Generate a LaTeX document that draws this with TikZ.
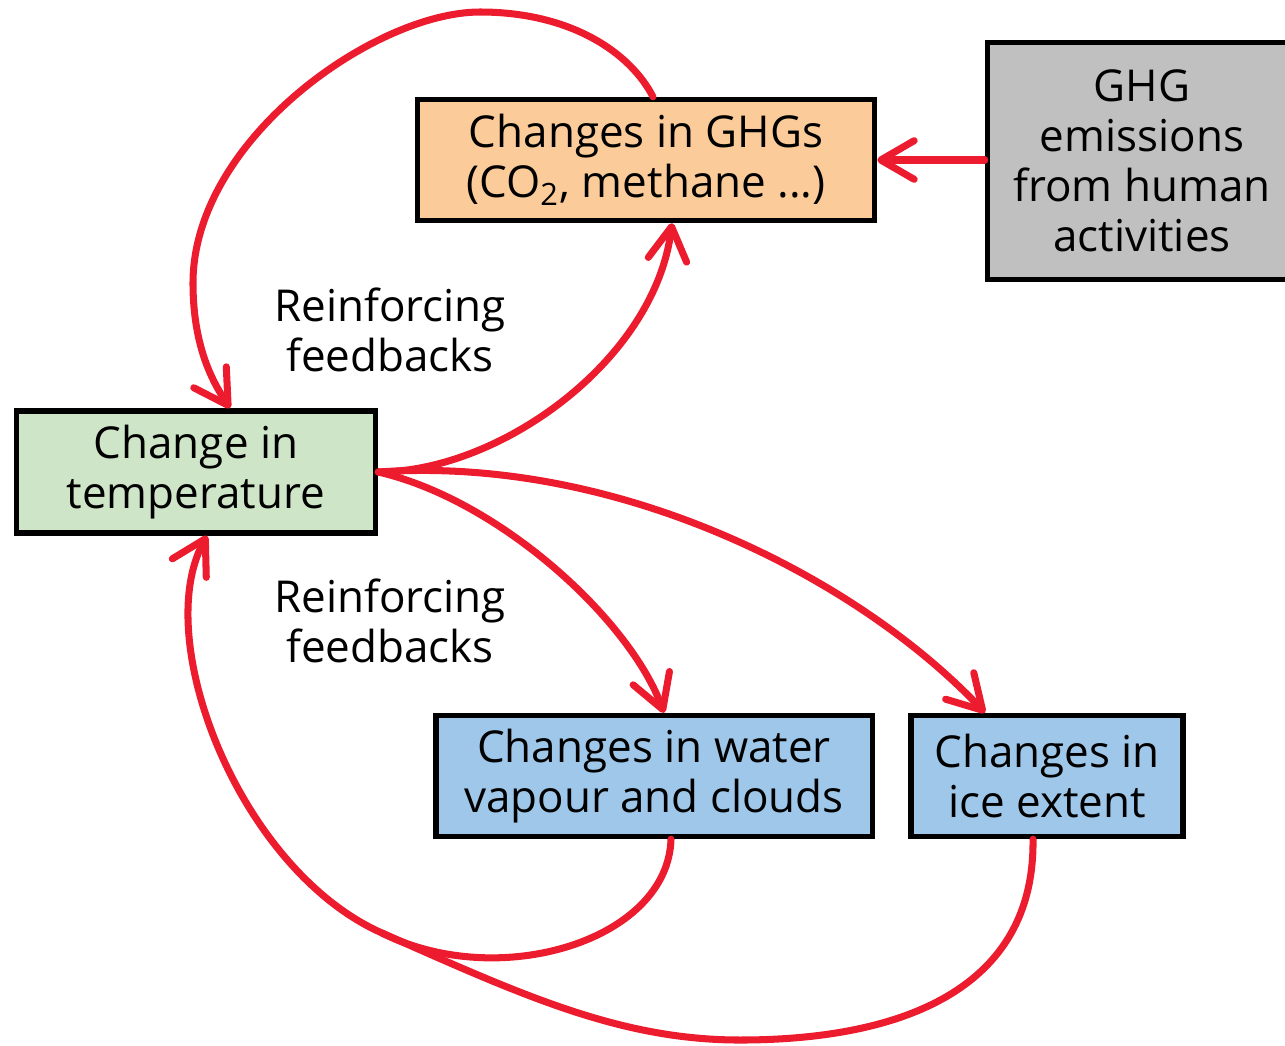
\documentclass[tikz,border=0pt]{standalone}
\usepackage{fontspec}
\setmainfont{Open Sans}
\usepackage{xcolor}
\usetikzlibrary{arrows.meta,calc}

\definecolor{loopred}{RGB}{236,28,46}
\definecolor{ghgfill}{RGB}{251,203,153}
\definecolor{emisfill}{RGB}{192,192,192}
\definecolor{tempfill}{RGB}{206,230,199}
\definecolor{waterfill}{RGB}{158,199,233}

\begin{document}
\begin{tikzpicture}[x=0.01cm,y=-0.01cm,
  box/.style={draw=black, line width=1.5pt, align=center, inner sep=0pt,
    font=\fontsize{12.5}{14.2}\selectfont},
  note/.style={align=center, font=\fontsize{12.5}{14.2}\selectfont},
  loop/.style={draw=loopred, line width=2pt, line cap=round},
  loopto/.style={loop, -{Straight Barb[length=9.5pt,width=11pt,round]}}]
% Page frame
\useasboundingbox (0,0) rectangle (1285,1045);

% Boxes
\node[box, fill=ghgfill, minimum width=4.57cm, minimum height=1.21cm] (ghg) at (646,160)
  {Changes in GHGs\\(CO\textsubscript{2}, methane ...)};
\node[box, fill=emisfill, minimum width=3.09cm, minimum height=2.37cm] (emis) at (1142,161)
  {GHG\\emissions\\from human\\activities};
\node[box, fill=tempfill, minimum width=3.59cm, minimum height=1.22cm] (temp) at (196,472)
  {Change in\\temperature};
\node[box, fill=waterfill, minimum width=4.36cm, minimum height=1.21cm] (water) at (654,776)
  {Changes in water\\vapour and clouds};
\node[box, fill=waterfill, minimum width=2.72cm, minimum height=1.21cm] (ice) at (1047,776)
  {Changes in\\ice extent};

% Labels
\node[note] (upper) at (390,330) {Reinforcing\\feedbacks};
\node[note] (lower) at (390,621) {Reinforcing\\feedbacks};

% Human emissions
\draw[loopto] (emis.west |- ghg.east) -- (ghg.east);

% Upper loop
\draw[loopto] ($(ghg.north)+(7,0)$) .. controls (630,52) and (570,12) .. (480,12)
  .. controls (375,12) and (193,140) .. (193,283)
  .. controls (193,350) and (215,385) .. ($(temp.north)+(34,0)$);
\draw[loopto] (temp.east) .. controls (500,472) and (655,360) .. ($(ghg.south)+(26,0)$);

% Lower loops
\draw[loopto] (temp.east) .. controls (500,500) and (630,620) .. ($(water.north)+(10,0)$);
\draw[loopto] (temp.east) .. controls (620,455) and (860,580) .. ($(ice.north)+(-62,0)$);
\coordinate (join) at (382,933);
\draw[loopto] ($(water.south)+(17,0)$) .. controls (668,940) and (500,992) .. (join)
  .. controls (240,870) and (150,640) .. ($(temp.south)+(11,0)$);
\draw[loop] ($(ice.south)+(-14,0)$) .. controls (1035,990) and (900,1040) .. (740,1040)
  .. controls (620,1040) and (522,995) .. (join);
\end{tikzpicture}
\end{document}
